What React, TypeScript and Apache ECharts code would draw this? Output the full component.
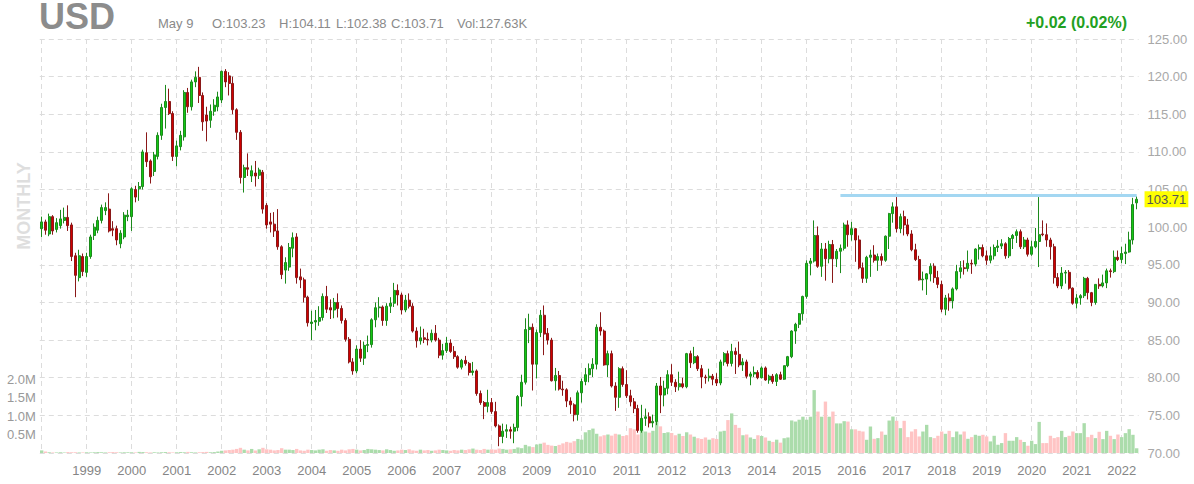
import React, { useEffect, useRef } from 'react';
import * as echarts from 'echarts';

// ---- Data (monthly, Jan 1998 .. May 2022) ----
const FIRST_YEAR = 1998;
const MONTH_COUNT = 293;
const CATEGORIES: string[] = Array.from({ length: MONTH_COUNT }, (_, i) =>
  `${FIRST_YEAR + Math.floor(i / 12)}-${String((i % 12) + 1).padStart(2, '0')}`
);

const OPEN: number[] = [
  99.8, 100.7, 99.1, 101.4, 99.7, 100.2, 100.9, 101.3, 100.3, 96.2, 93.3, 96.1,
  94.0, 96.1, 98.9, 99.6, 100.9, 102.2, 102.4, 99.8, 99.8, 97.8, 98.7, 101.4,
  101.4, 105.0, 105.1, 105.4, 109.9, 108.8, 107.4, 109.4, 112.2, 115.9, 116.7, 115.1,
  109.4, 110.7, 112.0, 117.9, 116.0, 119.3, 119.9, 117.5, 114.9, 114.2, 115.4, 116.0,
  116.9, 120.7, 120.1, 119.1, 115.6, 112.6, 106.6, 107.9, 106.8, 107.2, 106.9, 107.3,
  102.9, 100.7, 100.4, 99.5, 97.4, 94.3, 94.7, 97.2, 98.7, 93.4, 93.0, 90.7,
  87.2, 87.4, 87.5, 88.0, 90.8, 89.3, 89.0, 90.0, 89.2, 87.6, 85.1, 82.1,
  80.9, 83.8, 82.6, 84.3, 84.4, 87.7, 89.3, 89.4, 87.6, 89.5, 89.9, 91.6,
  91.0, 89.0, 90.3, 89.5, 86.2, 84.9, 85.3, 85.1, 85.0, 85.9, 85.0, 83.0,
  83.6, 84.6, 83.5, 82.8, 81.4, 82.3, 81.9, 80.7, 80.9, 77.9, 76.7, 76.2,
  76.7, 75.5, 73.6, 72.2, 72.9, 73.1, 72.9, 73.4, 77.5, 79.4, 86.4, 86.7,
  81.8, 86.0, 88.3, 85.9, 85.0, 79.6, 80.3, 78.5, 78.4, 76.9, 76.4, 75.1,
  78.0, 79.5, 80.4, 81.2, 81.8, 86.7, 86.2, 81.7, 83.2, 78.9, 77.4, 81.2,
  79.1, 77.6, 76.8, 75.9, 73.0, 74.6, 74.8, 74.0, 74.2, 78.9, 77.7, 78.6,
  80.4, 79.4, 78.8, 79.2, 78.8, 83.2, 82.0, 82.8, 81.2, 80.1, 80.0, 80.2,
  79.8, 79.3, 82.1, 83.2, 81.9, 83.5, 83.1, 81.7, 82.1, 80.2, 80.5, 80.7,
  80.0, 81.3, 79.7, 80.2, 79.5, 80.4, 79.8, 81.6, 82.8, 86.2, 87.1, 88.5,
  90.8, 95.2, 95.5, 98.9, 94.8, 97.1, 95.8, 97.7, 95.8, 96.8, 97.2, 100.3,
  99.0, 99.8, 98.3, 94.6, 93.2, 96.0, 96.3, 95.6, 96.1, 95.6, 98.8, 101.8,
  102.7, 99.8, 101.4, 100.3, 99.1, 97.0, 95.7, 93.0, 93.1, 93.8, 94.8, 93.3,
  92.4, 89.1, 90.6, 90.2, 91.8, 94.1, 94.6, 94.5, 95.2, 95.1, 97.1, 97.3,
  96.2, 95.6, 96.2, 97.3, 97.5, 97.8, 96.2, 98.5, 98.9, 99.4, 97.4, 98.3,
  96.4, 97.4, 98.1, 99.1, 99.0, 98.3, 97.4, 93.3, 92.2, 93.9, 94.0, 91.9,
  89.9, 90.6, 90.9, 93.2, 91.3, 90.0, 92.4, 92.2, 92.6, 94.2, 94.1, 96.0,
  95.7, 96.5, 96.7, 98.3, 103.23,
];

const HIGH: number[] = [
  101.4, 101.0, 101.8, 101.6, 101.2, 102.3, 102.6, 102.9, 100.6, 96.6, 97.0, 96.5,
  96.6, 99.0, 100.5, 101.4, 103.0, 103.3, 104.5, 100.8, 100.2, 99.6, 102.0, 102.3,
  105.3, 105.5, 106.0, 110.3, 112.6, 109.0, 110.0, 112.6, 116.4, 118.9, 118.4, 115.4,
  111.5, 112.8, 118.2, 118.5, 119.6, 120.7, 121.3, 117.9, 116.0, 116.3, 117.0, 118.0,
  120.8, 121.0, 120.6, 120.0, 115.8, 112.9, 108.3, 109.8, 108.2, 108.8, 107.9, 107.6,
  103.2, 101.9, 102.0, 102.4, 97.6, 96.0, 97.9, 99.3, 99.2, 94.5, 93.3, 90.9,
  88.9, 89.0, 89.5, 91.2, 92.2, 90.4, 90.6, 91.2, 89.6, 87.9, 85.4, 82.6,
  84.3, 85.0, 84.8, 85.6, 87.9, 90.0, 90.7, 89.6, 89.9, 90.7, 92.6, 92.4,
  91.3, 91.0, 91.2, 89.9, 86.7, 86.8, 86.5, 86.0, 86.4, 87.0, 85.3, 84.5,
  85.4, 85.1, 84.2, 83.0, 82.5, 82.9, 82.1, 82.1, 81.1, 78.3, 76.9, 78.4,
  77.3, 76.8, 73.8, 73.9, 73.8, 73.5, 73.9, 77.7, 80.4, 87.9, 88.5, 87.2,
  86.4, 89.0, 89.6, 86.6, 85.3, 81.3, 80.9, 79.6, 78.6, 77.4, 76.6, 78.3,
  79.9, 81.3, 81.9, 82.6, 87.1, 88.7, 86.4, 83.6, 83.6, 79.4, 81.4, 81.5,
  81.0, 78.4, 77.3, 76.4, 76.4, 75.9, 75.4, 75.1, 79.3, 80.1, 79.6, 81.0,
  81.8, 79.8, 80.8, 80.0, 83.3, 83.6, 84.1, 83.0, 81.7, 80.4, 81.2, 80.5,
  80.6, 82.4, 83.4, 83.6, 84.5, 84.0, 84.8, 82.6, 82.4, 80.8, 81.5, 81.0,
  81.5, 81.5, 80.4, 80.5, 80.6, 80.8, 81.6, 82.9, 86.3, 87.3, 88.6, 90.9,
  95.6, 95.9, 100.9, 100.1, 97.9, 97.9, 98.2, 98.3, 97.1, 97.7, 100.6, 100.9,
  100.7, 99.9, 98.9, 95.3, 96.2, 97.0, 97.6, 96.5, 96.5, 98.9, 101.9, 103.3,
  104.0, 101.8, 102.2, 101.1, 99.6, 97.8, 96.2, 94.1, 93.9, 95.2, 95.2, 94.2,
  92.9, 91.0, 91.2, 92.0, 95.0, 95.5, 95.6, 96.9, 95.7, 97.2, 97.7, 97.7,
  96.9, 97.4, 97.7, 98.3, 98.4, 98.0, 98.7, 99.1, 99.7, 99.7, 98.7, 98.6,
  98.2, 99.9, 104.0, 100.9, 100.5, 98.6, 97.8, 93.9, 94.7, 94.3, 94.3, 92.0,
  91.1, 91.1, 93.4, 93.4, 91.4, 92.4, 93.2, 93.7, 94.5, 94.5, 96.9, 96.9,
  97.4, 97.8, 99.4, 103.9, 104.11,
];

const LOW: number[] = [
  98.7, 99.0, 98.8, 99.0, 99.3, 99.8, 100.5, 99.5, 95.5, 90.7, 92.8, 93.5,
  93.4, 95.8, 98.3, 99.2, 100.5, 101.6, 99.3, 98.8, 97.6, 97.2, 98.4, 100.8,
  99.5, 103.3, 103.5, 105.0, 108.0, 105.8, 106.8, 109.0, 111.6, 113.1, 114.9, 108.8,
  108.1, 110.2, 111.5, 115.2, 115.5, 118.6, 116.5, 112.8, 111.4, 113.2, 114.8, 115.4,
  116.5, 118.6, 117.5, 115.0, 111.6, 105.8, 104.6, 106.8, 106.0, 105.4, 106.4, 101.8,
  99.8, 99.3, 98.7, 97.0, 93.1, 92.5, 94.2, 96.0, 92.5, 91.9, 90.0, 86.8,
  85.0, 86.3, 86.9, 87.6, 88.6, 87.8, 87.9, 88.0, 87.2, 84.8, 81.9, 80.4,
  80.6, 82.1, 81.7, 83.4, 84.0, 86.7, 88.0, 86.9, 86.9, 88.6, 89.4, 89.6,
  88.4, 88.7, 89.2, 86.0, 84.0, 84.4, 84.6, 84.3, 84.7, 84.8, 82.6, 82.4,
  83.3, 83.3, 82.5, 81.2, 81.1, 81.6, 80.3, 80.3, 77.6, 76.4, 74.5, 75.4,
  75.2, 73.4, 70.9, 71.3, 72.0, 71.9, 71.3, 72.9, 76.2, 79.1, 84.6, 78.3,
  79.9, 85.4, 83.0, 84.4, 79.5, 78.3, 78.3, 77.6, 76.1, 75.2, 74.2, 74.3,
  76.7, 79.0, 79.4, 80.1, 81.1, 85.6, 81.6, 80.1, 78.7, 75.6, 76.0, 78.8,
  77.3, 76.2, 75.3, 72.7, 72.7, 73.6, 73.4, 73.4, 73.7, 75.3, 76.2, 77.8,
  78.9, 78.1, 78.3, 78.6, 78.6, 81.3, 81.8, 80.9, 78.6, 79.2, 79.5, 79.0,
  78.9, 79.0, 81.6, 81.5, 81.5, 80.5, 81.4, 80.9, 79.9, 79.0, 80.1, 79.8,
  79.9, 79.6, 79.2, 79.2, 78.9, 79.7, 79.7, 81.4, 82.6, 84.5, 86.6, 87.6,
  90.5, 93.6, 95.3, 94.6, 93.4, 92.9, 95.2, 92.6, 94.7, 93.9, 96.9, 97.4,
  98.2, 95.4, 94.4, 92.6, 92.6, 93.4, 95.3, 94.2, 94.9, 95.4, 97.1, 100.6,
  99.3, 99.2, 98.9, 98.8, 96.8, 95.5, 92.9, 91.6, 91.0, 92.8, 92.6, 91.9,
  88.7, 88.3, 88.9, 89.2, 91.6, 93.2, 93.7, 94.1, 93.8, 94.8, 95.7, 96.0,
  95.0, 95.2, 95.7, 96.7, 97.1, 95.8, 95.9, 97.1, 97.9, 97.1, 97.1, 96.1,
  96.2, 97.2, 94.7, 98.8, 97.4, 95.7, 92.5, 91.9, 91.8, 92.5, 91.7, 89.7,
  89.2, 89.7, 90.6, 90.4, 89.5, 89.7, 91.8, 92.0, 91.9, 93.3, 93.9, 95.5,
  95.2, 95.1, 96.6, 97.7, 102.38,
];

const CLOSE: number[] = [
  100.7, 99.6, 101.4, 99.5, 100.6, 101.1, 101.3, 100.2, 96.1, 93.6, 96.2, 94.1,
  96.1, 98.7, 100.0, 100.9, 102.6, 102.6, 99.5, 99.6, 98.3, 99.2, 101.6, 101.6,
  105.1, 104.0, 105.4, 110.0, 108.7, 106.7, 109.6, 112.2, 115.9, 116.7, 115.1, 109.4,
  110.8, 112.2, 117.9, 116.0, 119.3, 119.9, 117.5, 114.0, 114.1, 115.4, 116.2, 117.3,
  120.7, 119.3, 119.1, 115.6, 112.6, 106.6, 107.9, 107.7, 107.5, 106.8, 107.6, 102.4,
  100.3, 100.4, 99.5, 97.4, 93.7, 95.3, 97.3, 98.6, 93.3, 93.0, 90.7, 87.3,
  87.4, 87.6, 88.0, 90.8, 89.1, 89.0, 90.0, 89.2, 87.6, 85.1, 82.1, 80.9,
  83.8, 82.6, 84.3, 84.4, 87.7, 89.3, 89.4, 87.6, 89.5, 89.9, 91.6, 91.0,
  89.0, 90.3, 89.5, 86.2, 84.9, 85.3, 85.1, 85.0, 85.9, 85.0, 83.0, 83.6,
  84.6, 83.5, 82.8, 81.4, 82.3, 81.9, 80.7, 80.9, 77.9, 76.7, 76.2, 76.7,
  75.5, 73.6, 72.2, 72.9, 73.1, 72.9, 73.4, 77.5, 79.4, 86.4, 86.7, 81.8,
  86.0, 88.3, 85.8, 85.0, 79.6, 80.3, 78.5, 78.4, 76.9, 76.4, 75.1, 78.0,
  79.5, 80.4, 81.2, 81.8, 86.7, 86.2, 81.7, 83.2, 78.9, 77.4, 81.2, 79.1,
  77.6, 76.8, 75.9, 73.0, 74.6, 74.8, 74.0, 74.2, 78.9, 77.7, 78.6, 80.4,
  79.4, 78.8, 79.2, 78.8, 83.2, 82.0, 82.8, 81.2, 80.1, 80.0, 80.2, 79.8,
  79.3, 82.1, 83.2, 81.9, 83.5, 83.1, 81.7, 82.1, 80.2, 80.5, 80.7, 80.0,
  81.3, 79.7, 80.2, 79.5, 80.4, 79.8, 81.6, 82.8, 86.2, 87.1, 88.5, 90.8,
  95.2, 95.5, 98.9, 94.8, 97.1, 95.8, 97.7, 95.8, 96.8, 97.2, 100.3, 99.0,
  99.8, 98.3, 94.6, 93.2, 96.0, 96.3, 95.6, 96.1, 95.6, 98.8, 101.8, 102.7,
  99.8, 101.4, 100.3, 99.1, 97.0, 95.7, 93.0, 93.1, 93.8, 94.8, 93.3, 92.4,
  89.1, 90.6, 90.2, 91.8, 94.1, 94.6, 94.5, 95.2, 95.1, 97.1, 97.3, 96.2,
  95.6, 96.2, 97.3, 97.5, 97.8, 96.2, 98.5, 98.9, 99.4, 97.4, 98.3, 96.4,
  97.4, 98.1, 99.0, 99.0, 98.3, 97.4, 93.3, 92.2, 93.9, 94.0, 91.9, 89.9,
  90.6, 90.9, 93.2, 91.3, 90.0, 92.4, 92.2, 92.6, 94.2, 94.1, 96.0, 95.7,
  96.5, 96.7, 98.3, 103.0, 103.71,
];

// volume in thousands
const VOLUME: number[] = [
  70, 40, 20, 15, 15, 20, 15, 25, 20, 20, 15, 15,
  20, 15, 20, 25, 20, 15, 20, 25, 20, 15, 20, 20,
  20, 15, 30, 25, 20, 15, 20, 15, 20, 25, 20, 15,
  20, 25, 20, 30, 20, 15, 20, 25, 30, 20, 25, 40,
  60, 70, 80, 90, 110, 140, 90, 70, 110, 70, 100, 140,
  100, 90, 70, 80, 130, 90, 90, 80, 110, 70, 60, 90,
  80, 70, 90, 100, 60, 80, 70, 60, 90, 70, 100, 110,
  90, 70, 80, 110, 100, 90, 80, 70, 100, 80, 60, 70,
  90, 80, 100, 70, 60, 90, 70, 80, 60, 70, 90, 80,
  70, 60, 80, 70, 90, 80, 100, 120, 90, 80, 110, 90,
  100, 90, 120, 110, 90, 100, 110, 150, 130, 220, 180, 160,
  230, 250, 280, 220, 200, 190, 220, 260, 300, 280, 320, 380,
  360, 560, 620, 660, 520, 450, 480, 500, 470, 520, 500, 460,
  480, 670, 640, 500, 620, 580, 550, 600, 870, 720, 540, 560,
  540, 480, 520, 460, 560, 500, 440, 400, 380, 420, 360, 400,
  380, 580, 600, 890, 1070, 760, 680, 480, 500, 420, 380, 480,
  460, 420, 330, 300, 360, 280, 400, 420, 880, 850, 900, 980,
  900, 980, 1700, 1120, 980, 1390, 980, 1120, 800, 800, 860, 850,
  640, 640, 600, 581, 357, 716, 384, 402, 581, 492, 877, 985,
  870, 671, 870, 429, 581, 644, 447, 581, 761, 429, 402, 465,
  581, 519, 599, 429, 581, 500, 581, 384, 429, 492, 465, 492,
  447, 313, 465, 223, 268, 537, 331, 331, 429, 357, 300, 196,
  331, 241, 841, 268, 268, 465, 402, 429, 599, 429, 465, 581,
  537, 537, 806, 429, 492, 402, 573, 375, 599, 465, 375, 500,
  429, 537, 644, 492, 127.63,
];

const PRICE_MIN = 70;
const PRICE_MAX = 125;
const PRICE_STEP = 5;
const VOL_MAX = 2000;
const VOL_STEP = 500;
const RESISTANCE = { from: '2015-10', to: '2022-05', value: 104.2 };
const HEADER = { symbol: 'USD', date: 'May 9', change: '+0.02 (0.02%)', period: 'MONTHLY' };

const FONT = 'Arial, "Liberation Sans", sans-serif';
const GRID_COLOR = '#dcdcdc';

export default function App() {
  const ref = useRef<HTMLDivElement>(null);

  useEffect(() => {
    if (!ref.current) return;
    const chart = echarts.init(ref.current, undefined, { renderer: 'svg' });
    const last = MONTH_COUNT - 1;
    const candleData = CATEGORIES.map((_, i) => [OPEN[i], CLOSE[i], LOW[i], HIGH[i]]);
    const volData = CATEGORIES.map((_, i) => ({
      value: VOLUME[i],
      itemStyle: { color: CLOSE[i] >= OPEN[i] ? '#abdcab' : '#ffc4c4' },
    }));
    const dashed = { color: GRID_COLOR, type: [5, 4] as any, width: 1 };
    const hdr = (text: string, x: number) => ({
      type: 'text', x, y: 23,
      style: { text, fontSize: 13, fill: '#8a8a8a', fontFamily: FONT, verticalAlign: 'middle' },
    });

    chart.setOption({
      animation: false,
      textStyle: { fontFamily: FONT },
      grid: [
        { left: 39.8, right: 55.45, top: 39, bottom: 31 },
        { left: 39.8, right: 55.45, top: 379, bottom: 31 },
        { left: 41.675, right: 57.325, top: 39, bottom: 31 },
      ],
      xAxis: [
        { type: 'category', gridIndex: 0, data: CATEGORIES, boundaryGap: true, show: false },
        { type: 'category', gridIndex: 1, data: CATEGORIES, boundaryGap: true, show: false },
        {
          type: 'category', gridIndex: 2, data: CATEGORIES, boundaryGap: false,
          axisLine: { show: false }, axisTick: { show: false },
          splitLine: { show: true, interval: (i: number) => i % 12 === 0, lineStyle: dashed },
          axisLabel: {
            interval: (i: number) => i % 12 === 0 && i > 0,
            formatter: (v: string) => v.slice(0, 4),
            color: '#858585', fontSize: 13, margin: 11,
          },
        },
      ],
      yAxis: [
        {
          type: 'value', gridIndex: 0, position: 'right',
          min: PRICE_MIN, max: PRICE_MAX, interval: PRICE_STEP,
          axisLine: { show: false }, axisTick: { show: false },
          splitLine: { show: true, lineStyle: dashed },
          axisLabel: { formatter: (v: number) => v.toFixed(2), color: '#a8a8a8', fontSize: 13, margin: 9 },
        },
        {
          type: 'value', gridIndex: 1, position: 'left',
          min: 0, max: VOL_MAX, interval: VOL_STEP,
          axisLine: { show: false }, axisTick: { show: false }, splitLine: { show: false },
          axisLabel: {
            formatter: (v: number) => (v === 0 ? '' : (v / 1000).toFixed(1) + 'M'),
            color: '#999', fontSize: 13, margin: 4,
          },
        },
        { type: 'value', gridIndex: 2, show: false, min: 0, max: 1 },
      ],
      series: [
        {
          type: 'bar', xAxisIndex: 1, yAxisIndex: 1, data: volData,
          barWidth: '90%', z: 1, silent: true,
        },
        {
          type: 'candlestick', xAxisIndex: 0, yAxisIndex: 0, data: candleData,
          barWidth: 2.6, z: 3, silent: true,
          itemStyle: {
            color: '#14c814', color0: '#d00000',
            borderColor: '#1c8a1c', borderColor0: '#8a1818', borderWidth: 1,
          },
          markLine: {
            silent: true, symbol: ['none', 'none'], animation: false,
            data: [
              [
                {
                  coord: [RESISTANCE.from, RESISTANCE.value],
                  lineStyle: { color: '#a3d7f2', width: 3, type: 'solid' },
                  label: { show: false },
                },
                { coord: [RESISTANCE.to, RESISTANCE.value] },
              ],
              {
                yAxis: CLOSE[last],
                lineStyle: { color: 'rgba(255,255,255,0)', width: 0 },
                label: {
                  show: true, position: 'end', distance: 6,
                  formatter: CLOSE[last].toFixed(2),
                  backgroundColor: '#ffff00', color: '#555', fontSize: 13,
                  padding: [2, 2, 1, 2], fontFamily: FONT, opacity: 1,
                },
              },
            ],
          },
        },
      ],
      graphic: [
        {
          type: 'text', x: 39, y: 16,
          style: { text: HEADER.symbol, fontSize: 36, lineHeight: 30, fontWeight: 'bold', fill: '#8c8c8c', fontFamily: FONT, verticalAlign: 'middle' },
        },
        hdr(HEADER.date, 158),
        hdr(`O:${OPEN[last].toFixed(2)}`, 212),
        hdr(`H:${HIGH[last].toFixed(2)}`, 279),
        hdr(`L:${LOW[last].toFixed(2)}`, 336),
        hdr(`C:${CLOSE[last].toFixed(2)}`, 391),
        hdr(`Vol:${VOLUME[last].toFixed(2)}K`, 457),
        {
          type: 'text', x: 1026, y: 22,
          style: { text: HEADER.change, fontSize: 16, fontWeight: 'bold', fill: '#22a022', fontFamily: FONT, verticalAlign: 'middle' },
        },
        {
          type: 'text', x: 24, y: 206, rotation: Math.PI / 2,
          style: { text: HEADER.period, fontSize: 18, fontWeight: 'bold', fill: '#dedede', fontFamily: FONT, align: 'center', verticalAlign: 'middle' },
        },
      ],
    });
    return () => chart.dispose();
  }, []);

  return (
    <div
      ref={ref}
      style={{ position: 'fixed', left: 0, top: 0, width: 1194, height: 484, background: '#fff' }}
    />
  );
}
